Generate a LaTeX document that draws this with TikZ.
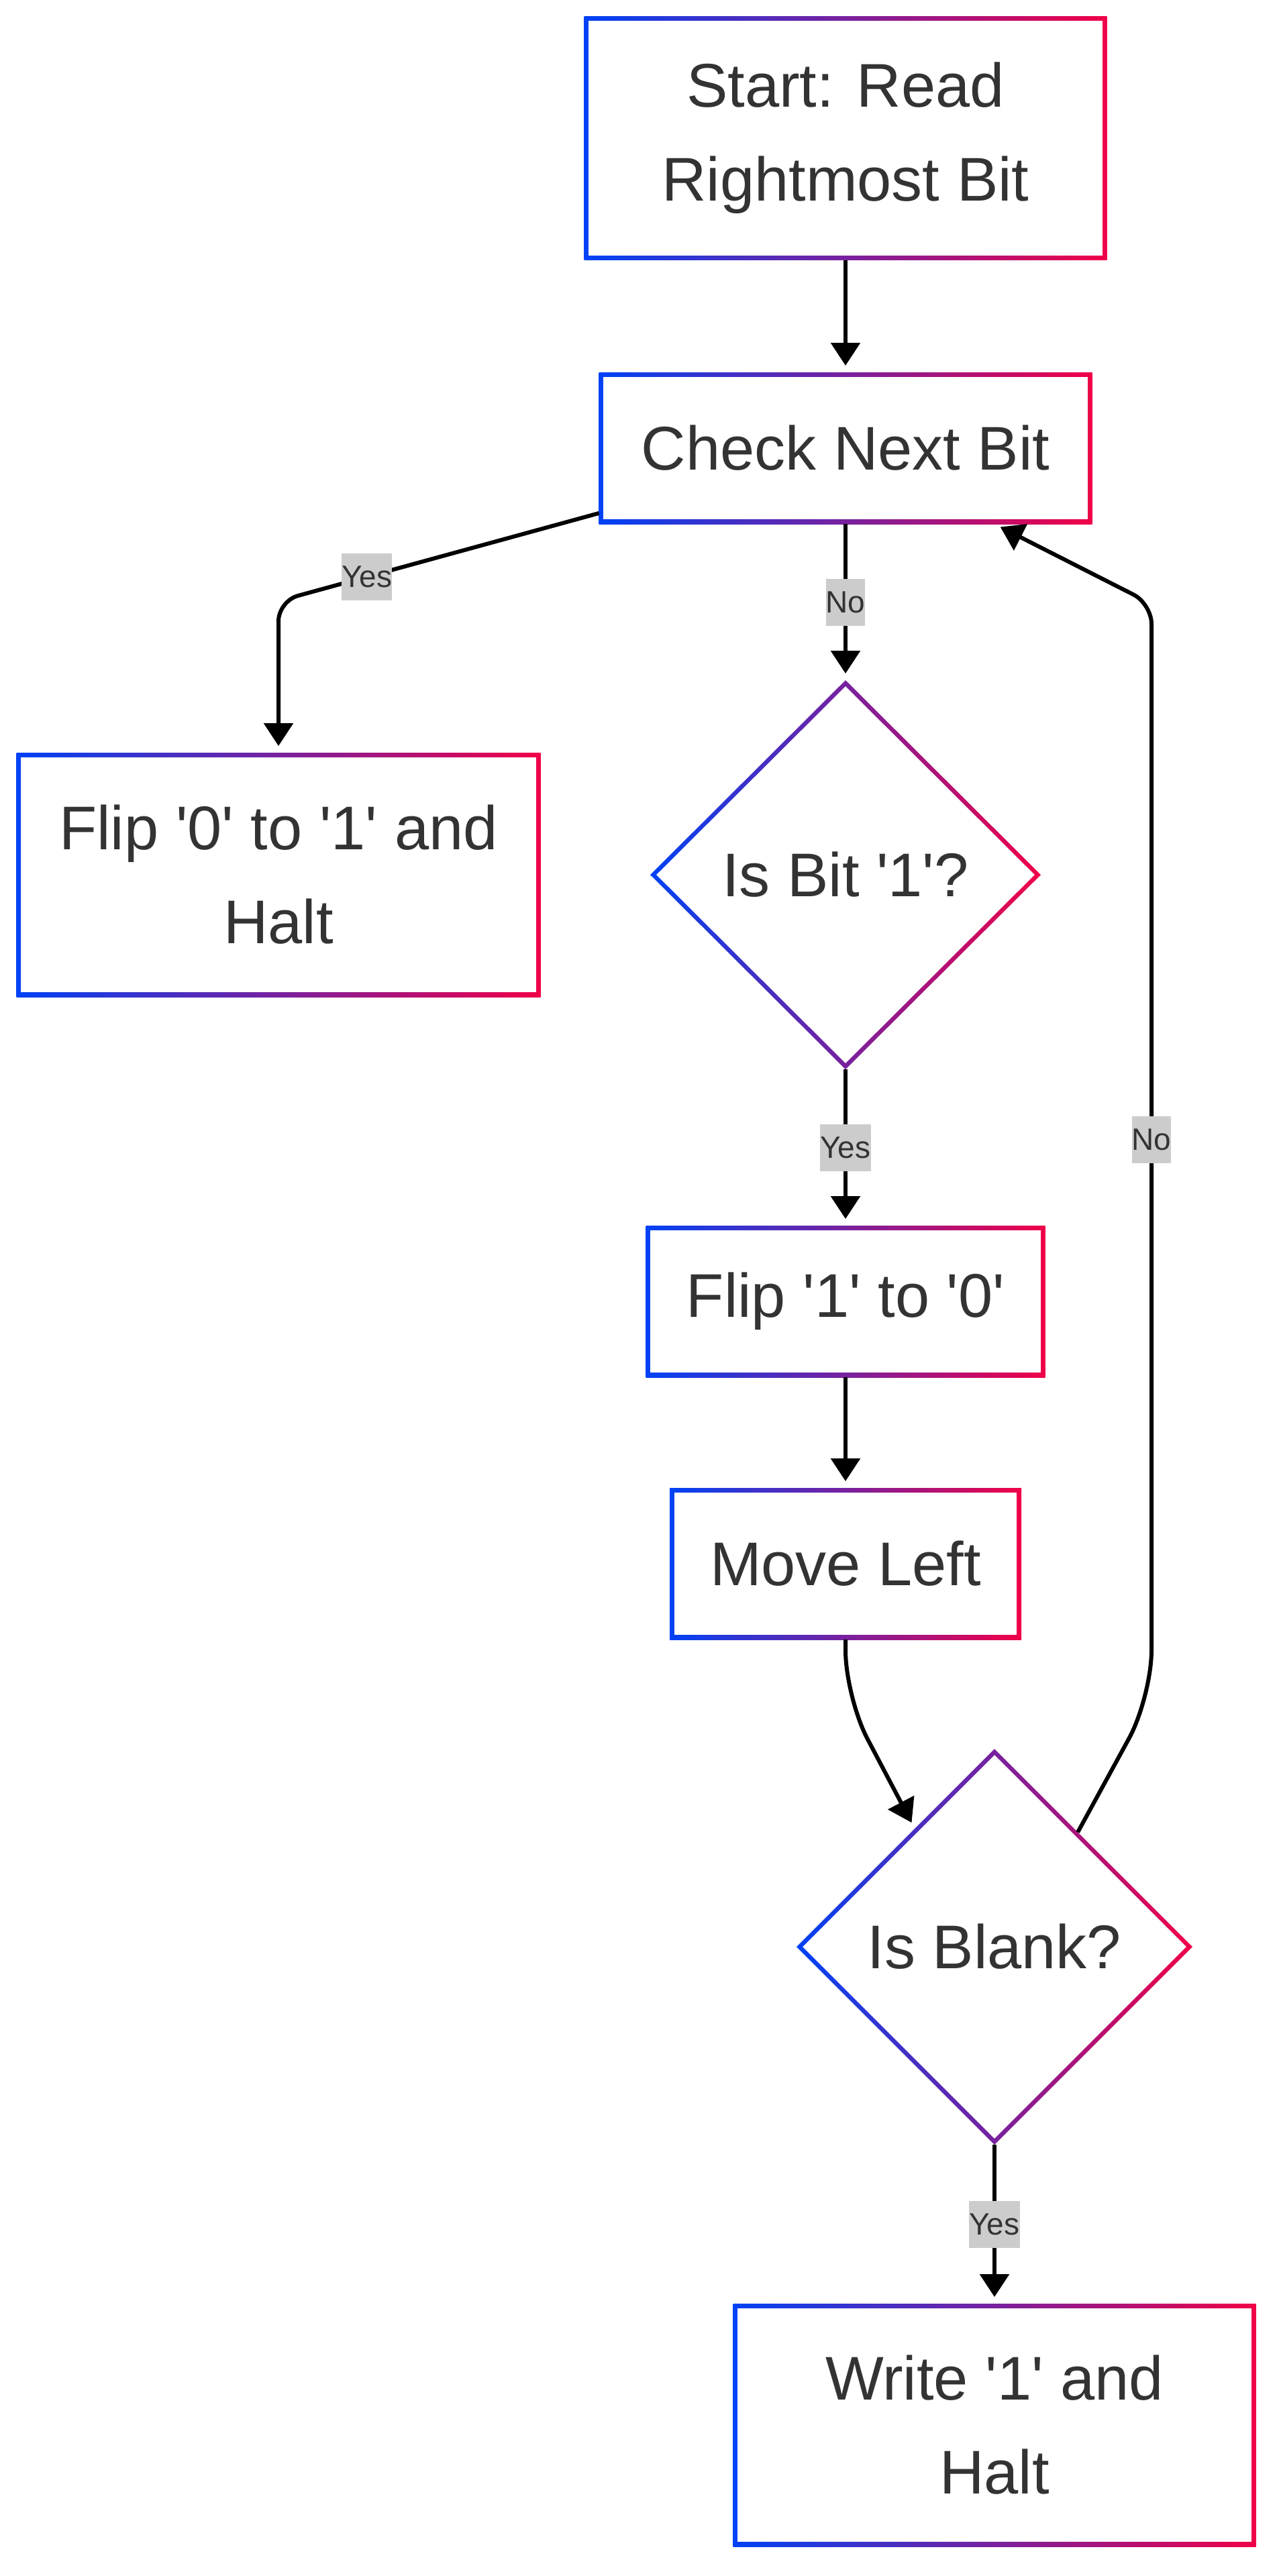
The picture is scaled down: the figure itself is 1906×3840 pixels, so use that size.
\documentclass[tikz,border=0pt]{standalone}
\usepackage{fontspec}
\setmainfont{Liberation Sans}
\usetikzlibrary{shapes.geometric,arrows.meta}
\definecolor{gblue}{RGB}{0,66,245}
\definecolor{gred}{RGB}{240,0,72}
\definecolor{txt}{RGB}{51,51,51}
\definecolor{lblbg}{RGB}{204,204,204}
\newcommand{\myq}{\textquotesingle}
\begin{document}
\begin{tikzpicture}[x=0.5pt,y=-0.5pt,
  box/.style={rectangle, fill=white, draw=none, inner sep=0pt, outer sep=0pt,
    text=txt, align=center, font=\fontsize{46pt}{70pt}\selectfont,
    path picture={
      \shade[left color=gblue,right color=gred]
        (path picture bounding box.south west) rectangle (path picture bounding box.north east);
      \fill[white] ([shift={(3.3pt,3.3pt)}]path picture bounding box.south west)
        rectangle ([shift={(-3.3pt,-3.3pt)}]path picture bounding box.north east);
    }},
  dia/.style={diamond, aspect=1, fill=white, draw=none, inner sep=0pt, outer sep=0pt,
    text=txt, align=center, font=\fontsize{46pt}{70pt}\selectfont,
    path picture={
      \shade[left color=gblue,right color=gred]
        (path picture bounding box.south west) rectangle (path picture bounding box.north east);
      \fill[white] ([xshift=4.6pt]path picture bounding box.west)
        -- ([yshift=-4.6pt]path picture bounding box.north)
        -- ([xshift=-4.6pt]path picture bounding box.east)
        -- ([yshift=4.6pt]path picture bounding box.south) -- cycle;
    }},
  conn/.style={draw=black, line width=3pt, -{Triangle[width=21.5pt,length=17pt]}, shorten >=5pt},
  elabel/.style={sharp corners, fill=lblbg, text=txt, inner sep=0pt, minimum height=35pt,
    font=\fontsize{23pt}{28pt}\selectfont}
]
\fill[white] (0,0) rectangle (1906,3840);
\useasboundingbox (0,0) rectangle (1906,3840);

\node[box, minimum width=389.5pt, minimum height=181.5pt] (start) at (1260,206) {Start: Read\\Rightmost Bit};
\node[box, minimum width=367.5pt, minimum height=113pt] (check) at (1260,668) {Check Next Bit};
\node[box, minimum width=390.5pt, minimum height=182pt] (flip0) at (415,1304) {Flip \myq0\myq{} to \myq1\myq{} and\\Halt};
\node[dia, minimum width=291pt, minimum height=290pt] (d1) at (1260,1304) {Is Bit \myq1\myq?};
\node[box, minimum width=297.5pt, minimum height=113pt] (flip1) at (1260,1940) {Flip \myq1\myq{} to \myq0\myq};
\node[box, minimum width=262pt, minimum height=113pt] (move) at (1260,2331) {Move Left};
\node[dia, minimum width=295pt, minimum height=295pt] (d2) at (1482,2902) {Is Blank?};
\node[box, minimum width=389.5pt, minimum height=181pt] (write) at (1482,3615) {Write \myq1\myq{} and\\Halt};

\draw[conn] (start.south) -- (check.north);
\draw[conn, rounded corners=15pt] ([yshift=8pt]check.south west) -- node[elabel, pos=0.724] {Yes} (415,896) -- (flip0.north);
\draw[conn] (check.south) -- node[elabel] {No} (d1.north);
\draw[conn] (d1.south) -- node[elabel] {Yes} (flip1.north);
\draw[conn] (flip1.south) -- (move.north);
\draw[conn, rounded corners=35pt] (move.south) -- (1260,2530) -- (d2.124);
\draw[conn] (d2.54) [rounded corners=35pt] -- (1716,2530) [rounded corners=15pt] -- node[elabel, pos=0.51] {No} (1716,900) -- (check.-27);
\draw[conn] (d2.south) -- node[elabel] {Yes} (write.north);
\end{tikzpicture}
\end{document}
